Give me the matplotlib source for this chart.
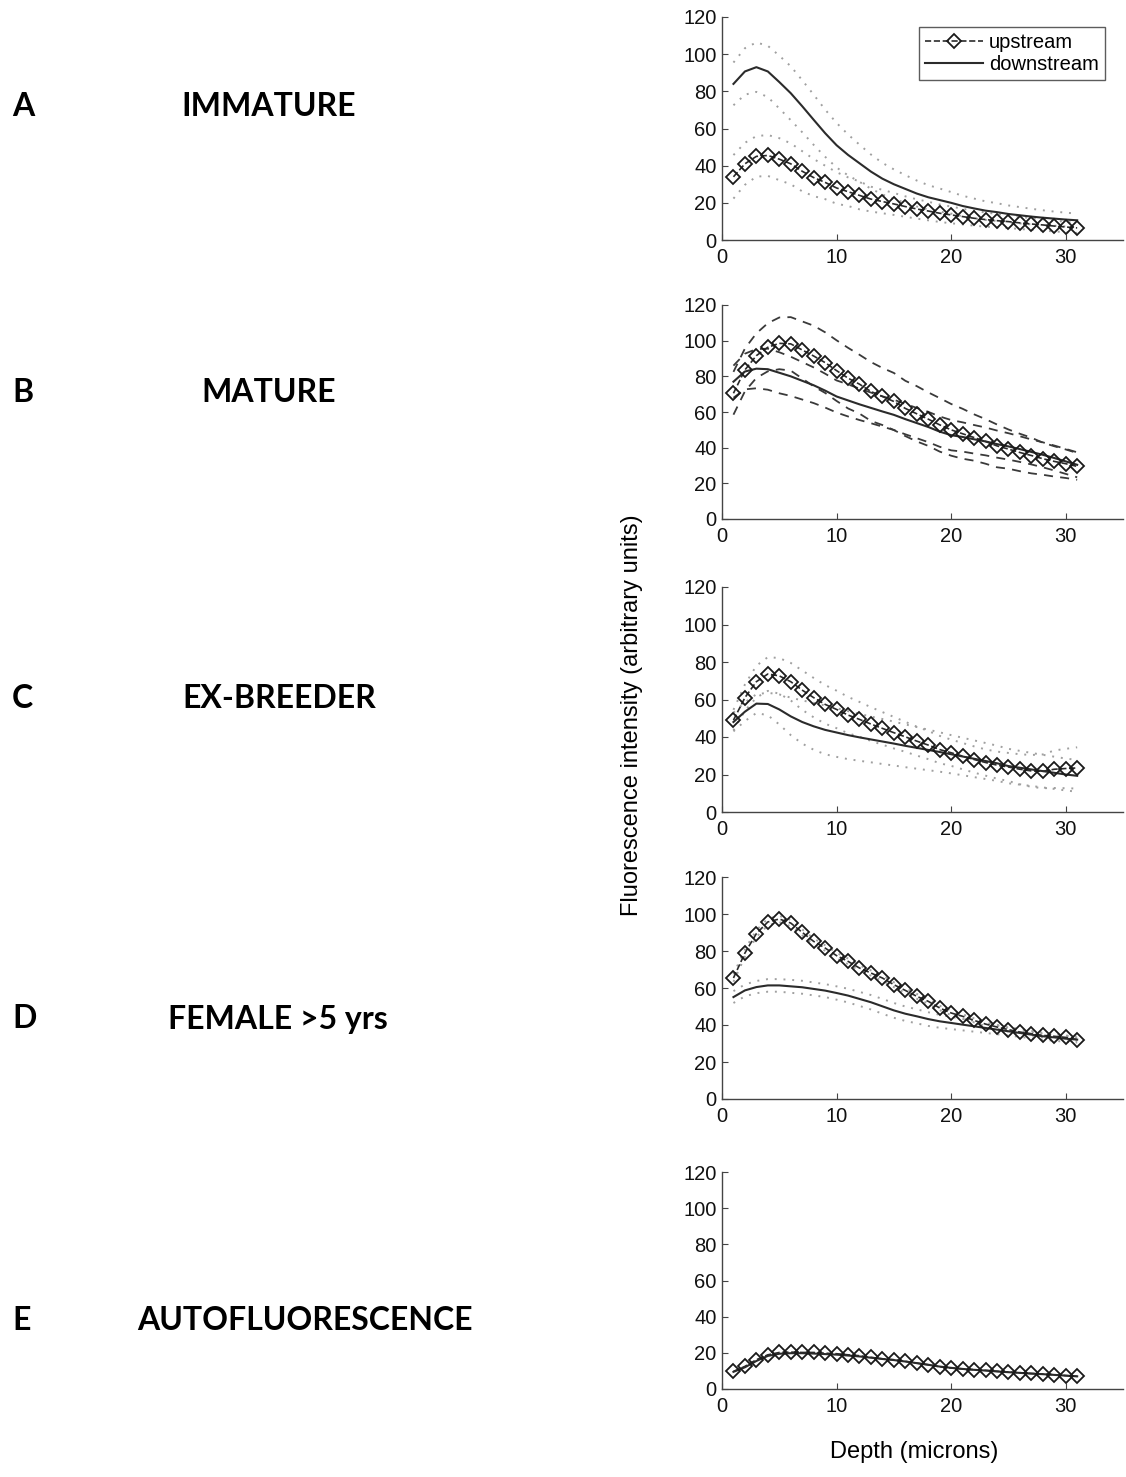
import matplotlib.pyplot as plt

plt.rcParams["font.family"] = ["Liberation Sans", "DejaVu Sans"]

depth = list(range(1, 32))

# A - immature
a_up = [34, 41, 45, 45.5, 43.5, 41, 37, 33.6, 31, 28, 26, 24, 22, 20.7, 19.4, 18,
        16.7, 15.6, 14.4, 13.5, 12.6, 11.7, 11, 10.4, 9.9, 9.2, 8.6, 8.1, 7.5, 7, 6.5]
a_up_sd = [11.7, 11.3, 10.9, 11, 11.3, 11, 10.8, 10, 9, 8.5, 7.7, 7.5, 6.7, 6.3, 5.9, 5.5,
           5.2, 5, 4.7, 4.5, 4.2, 4, 3.8, 3.6, 3.4, 3.3, 3.1, 3, 2.9, 2.8, 2.7]
a_dn = [84, 90.7, 93, 90.7, 85, 79, 72, 64.7, 57.5, 51, 45.8, 41.3, 36.8, 33, 30, 27.5,
        25, 23, 21.5, 20, 18.3, 17, 15.8, 15, 14, 13.3, 12.6, 12, 11.5, 11, 10.6]
a_dn_sd = [11.5, 12.5, 13.3, 13.8, 14.2, 14.5, 14, 13.5, 12.7, 12, 11, 10, 9.2, 8.5, 8, 7.4,
           7, 6.5, 6.2, 5.8, 5.5, 5.3, 5, 4.8, 4.6, 4.4, 4.2, 4, 3.8, 3.7, 3.6]

# B - mature
b_up = [70.5, 83.6, 91.6, 96.3, 98.5, 98.2, 94.8, 91.4, 87.7, 83.2, 79, 75.6, 71.5, 68.7,
        65.9, 62, 59, 56, 52.8, 50, 47.8, 45.7, 43.5, 41, 39.2, 37.3, 35.6, 33.8, 32.3, 31, 29.5]
b_up_sd = [12, 12, 12.5, 13.5, 14.5, 15, 16, 17, 17, 17, 17, 16.5, 16.5, 16, 16, 15.5,
           15.5, 15, 15, 14.5, 14, 13, 12.5, 12, 11, 10.5, 10, 9, 8.5, 8, 7.5]
b_dn = [77, 82.7, 84.3, 84, 82, 80, 77.5, 75, 72, 68.7, 66.5, 64.3, 62.3, 60.3, 58.4, 56,
        53.8, 51.6, 49, 47, 46, 44.7, 43.5, 42, 40.7, 39.2, 37.6, 36, 34.2, 32.3, 30.4]
b_dn_sd = [9, 10, 11, 11.5, 11.5, 11, 10.5, 10, 9.5, 9, 9, 8.8, 8.6, 8.5, 8.5, 8.5,
           8.5, 8.5, 8.5, 8.5, 8.2, 8, 7.8, 7.6, 7.4, 7.2, 7, 7, 7, 7, 7]

# C - ex-breeder
c_up = [49, 61, 69.5, 73.6, 72.6, 69.5, 65, 61, 57.4, 54.7, 51.7, 49.4, 46.9, 44.6, 42.3,
        40.1, 37.8, 35.7, 33.3, 31.6, 29.8, 28, 26.4, 25, 24, 22.8, 21.9, 21.7, 22.8, 23.2, 23.5]
c_up_sd = [5.5, 7, 8.5, 9, 9.5, 10, 10.5, 10.5, 10.3, 10, 9.7, 9.3, 9, 8.7, 8.4, 8,
           7.7, 7.5, 7.3, 7, 7, 7, 7, 7.2, 7.5, 8, 8.5, 9, 10, 10.5, 11]
c_dn = [48, 53.5, 57.8, 57.6, 54.7, 51, 48, 45.7, 43.8, 42.4, 41, 39.8, 38.7, 37.6, 36.5,
        35.3, 34.2, 33.1, 32, 30.8, 29.6, 28.4, 27.2, 26, 24.5, 23.6, 22.7, 21.8, 20.9, 20, 19.3]
c_dn_sd = [5, 5, 5, 6, 8, 10, 11.5, 12.5, 13, 13, 12.8, 12.5, 12.2, 12, 11.7, 11.4,
           11.1, 10.8, 10.5, 10.2, 10, 9.8, 9.6, 9.4, 9.2, 9, 8.8, 8.7, 8.6, 8.5, 8.5]

# D - female >5 yrs
d_up = [65.4, 78.9, 89.4, 95.7, 97.3, 95.1, 90.1, 85.2, 81.6, 77.5, 74.4, 70.8, 68.1, 65.4,
        61.8, 58.7, 55.5, 52.8, 49.2, 46.5, 44.7, 42.5, 40.5, 38.9, 37.5, 36.2, 35.3, 34.4,
        33.9, 33.3, 32.1]
d_up_sd = [2, 2, 1.8, 1.8, 1.7, 1.7, 1.6, 1.6, 1.5, 1.5, 1.5, 1.4, 1.4, 1.4, 1.3, 1.3,
           1.3, 1.2, 1.2, 1.2, 1.1, 1.1, 1.1, 1, 1, 1, 1, 1, 1, 1, 1]
d_dn = [55.1, 58.7, 60.5, 61.4, 61.4, 60.9, 60.4, 59.5, 58.6, 57.3, 55.9, 54.1, 52.3, 50.1,
        47.9, 46.1, 44.7, 43.2, 42, 41.1, 40.2, 39.3, 38.4, 37.5, 36.6, 35.7, 34.8, 33.9,
        33.3, 32.6, 32.1]
d_dn_sd = [3.2, 3.2, 3.3, 3.4, 3.4, 3.5, 3.5, 3.5, 3.5, 3.6, 3.7, 3.8, 3.9, 4, 4, 3.9,
           3.8, 3.7, 3.5, 3.3, 3.1, 2.9, 2.7, 2.5, 2.3, 2.1, 2, 1.9, 1.8, 1.7, 1.6]

# E - autofluorescence
e_up = [9.7, 12.5, 16.2, 18.9, 20.2, 20.4, 20.2, 20.2, 19.8, 19.5, 18.9, 18.4, 17.5, 16.7,
        16.2, 15.3, 14.3, 13.4, 12.3, 11.6, 11.1, 10.7, 10.3, 9.8, 9.4, 9, 8.6, 8.3, 7.9, 7.4, 7]
e_dn = [9.5, 12, 15.5, 18.3, 19.5, 19.8, 19.8, 19.6, 19.3, 19, 18.5, 18, 17.3, 16.6, 16,
        15.2, 14.3, 13.4, 12.4, 11.7, 11.1, 10.6, 10.2, 9.7, 9.3, 8.9, 8.5, 8.2, 7.8, 7.4, 7]

letters = ["A", "B", "C", "D", "E"]
groups = ["IMMATURE", "MATURE", "EX-BREEDER", "FEMALE >5 yrs", "AUTOFLUORESCENCE"]

panels = [
    (a_up, a_up_sd, a_dn, a_dn_sd, ":"),
    (b_up, b_up_sd, b_dn, b_dn_sd, "--"),
    (c_up, c_up_sd, c_dn, c_dn_sd, ":"),
    (d_up, d_up_sd, d_dn, d_dn_sd, ":"),
    (e_up, None, e_dn, None, ":"),
]

W, H = 1126, 1477
fig = plt.figure(figsize=(W / 100, H / 100), dpi=100)

# axes boxes in pixels: (top, bottom)
boxes = [(17, 240), (305, 519), (587, 812), (877, 1099), (1172, 1389)]
label_y = [107, 393, 698, 1019, 1320]
label_x = [181, 201, 182, 168, 137]
ax_left, ax_right = 722, 1123

line_col = "#2b2b2b"
axes = []
for i, (up, up_sd, dn, dn_sd, band_style) in enumerate(panels):
    top, bot = boxes[i]
    ax = fig.add_axes([ax_left / W, 1 - bot / H, (ax_right - ax_left) / W, (bot - top) / H])
    axes.append(ax)

    # error bands
    if band_style == "--":
        band_kw = dict(color="#3a3a3a", lw=1.3, linestyle=(0, (5, 4)))
    else:
        band_kw = dict(color="#a0a0a0", lw=1.4, linestyle=(0, (1, 3.5)))
    for mean, sd in ((up, up_sd), (dn, dn_sd)):
        if sd is None:
            continue
        ax.plot(depth, [m + s for m, s in zip(mean, sd)], **band_kw)
        ax.plot(depth, [m - s for m, s in zip(mean, sd)], **band_kw)

    ax.plot(depth, dn, "-", color=line_col, lw=1.5, label="downstream")
    ax.plot(depth, up, "--", color=line_col, lw=1.2, marker="D", ms=7,
            mfc="none", mec="#1a1a1a", mew=1.3, label="upstream")

    ax.set_xlim(0, 35)
    ax.set_ylim(0, 120)
    ax.set_xticks([0, 10, 20, 30])
    ax.set_yticks(range(0, 121, 20))
    ax.spines["top"].set_visible(False)
    ax.spines["right"].set_visible(False)
    for s in ("left", "bottom"):
        ax.spines[s].set_color("#444444")
        ax.spines[s].set_linewidth(1.0)
    ax.tick_params(direction="in", length=4, width=0.8, labelsize=14.5,
                   colors="#444444", labelcolor="#111111")
    ax.tick_params(axis="x", pad=6)
    ax.tick_params(axis="y", pad=4)

    fig.text(12 / W, 1 - label_y[i] / H, letters[i], family="Lato", weight="bold",
             fontsize=23, va="center", ha="left")
    fig.text(label_x[i] / W, 1 - label_y[i] / H, groups[i], family="Lato", weight="bold",
             fontsize=23, va="center", ha="left")

handles, labels = axes[0].get_legend_handles_labels()
leg = axes[0].legend(handles[::-1], labels[::-1], loc="upper right", fontsize=14.5,
                     frameon=True, fancybox=False, edgecolor="#333333", numpoints=1,
                     handlelength=2.9, borderpad=0.3, labelspacing=0.15, handletextpad=0.3,
                     borderaxespad=0, bbox_to_anchor=(0.955, 0.955))
leg.get_frame().set_linewidth(1.0)

fig.text(632 / W, 1 - 715 / H, "Fluorescence intensity (arbitrary units)", rotation=90,
         fontsize=17, va="center", ha="center")
fig.text(914 / W, 1 - 1452 / H, "Depth (microns)", fontsize=17, va="center", ha="center")

fig.savefig("out.png", dpi=100)
